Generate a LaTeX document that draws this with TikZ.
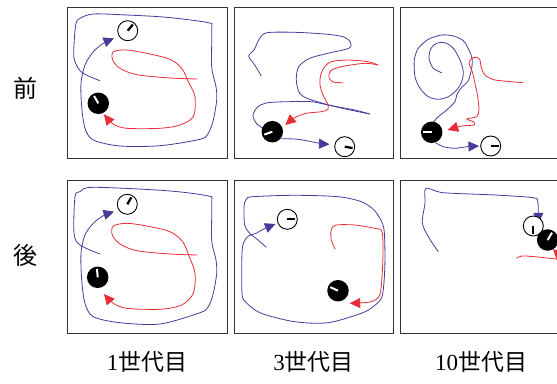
\documentclass[tikz,border=0pt]{standalone}
\usepackage{fontspec}
\setmainfont{Liberation Serif}
\newfontfamily\jp{Noto Sans CJK JP}
\usetikzlibrary{arrows.meta}
\definecolor{traj}{RGB}{72,58,155}
\definecolor{rtraj}{RGB}{232,44,56}
\tikzset{
  panel/.style={draw=black!80,line width=0.9pt},
  bpath/.style={draw=traj,line width=0.8pt},
  rpath/.style={draw=rtraj,line width=0.8pt},
  barrow/.style={bpath,-{Triangle[length=10.5pt,width=10pt]}},
  rarrow/.style={rpath,-{Triangle[length=10.5pt,width=10pt]}},
  wclock/.style={circle,draw=black,fill=white,line width=0.9pt,minimum size=20pt,inner sep=0pt},
  bclock/.style={circle,fill=black,minimum size=21.5pt,inner sep=0pt},
  rowlabel/.style={font=\jp\fontsize{24}{24}\selectfont},
  collabel/.style={font=\fontsize{23}{23}\selectfont},
}
\newcommand\wclk[4]{\node[wclock] (#1) at (#2,#3) {};
  \draw[line width=2.3pt] (#1.center) -- ++({-(#4)}:8);}
\newcommand\bclk[4]{\node[bclock] (#1) at (#2,#3) {};
  \draw[white,line width=2pt] (#1.center) -- ++({-(#4)}:8.5);}
\begin{document}
\begin{tikzpicture}[x=1pt,y=-1pt]
\useasboundingbox (0,0) rectangle (557,383);
\clip (0,0) rectangle (557,383);
% panels
\draw[panel] (67,7) rectangle (227,158);
\draw[panel] (234,7) rectangle (393,158);
\draw[panel] (400,7) rectangle (562,158);
\draw[panel] (67,180) rectangle (227,333);
\draw[panel] (234,180) rectangle (393,333);
\draw[panel] (400,180) rectangle (562,333);
% ---------- panel 1 ----------
\draw[barrow] plot[smooth] coordinates {(100,80.7) (90,76.7) (80,70.7) (74,58.3) (74.3,40) (76,23.3) (80,18.3) (93.3,14) (126.7,15) (166.7,17.3) (208.3,22.7) (211.7,28.3) (211.7,66.7) (216,86.7) (216.7,100) (213.3,120) (208.3,133.3) (200,139.3) (160,145.7) (120,146) (93.3,140) (85,128.3) (81.7,106.7) (81,83.3) (85,65) (93.3,51.7) (103.3,43.3) (114,38.3)};
\draw[rarrow] plot[smooth] coordinates {(197.3,79) (170,78) (136.7,74.7) (120,68.3) (112.7,60) (113.3,51.7) (126.7,50) (146.7,53.3) (170,59.3) (181.7,68.3) (188.3,81.7) (195,96.7) (193.3,116.7) (180,125) (160,128.3) (126.7,128.3) (113.3,124) (104,114.3)};
\wclk{w1}{127.7}{30.7}{50}
\bclk{b1}{98.3}{103.3}{120}
% ---------- panel 2 ----------
\draw[bpath] plot[smooth] coordinates {(261.3,76) (254.7,65) (248.7,56) (254,50) (259.7,38.3) (267.3,32.7) (294.7,32.3) (328,34.3) (344.7,37.3) (350.7,42.7) (348.7,48.3) (328,53.3) (309.7,58.3) (298.7,66.7) (296.3,80) (299.7,93.3) (309.7,99.3) (338,107.3) (369.7,114)};
\draw[bpath] plot[smooth] coordinates {(369.7,114) (354.7,110) (328,105) (311.3,101.7) (288,101.7) (268,102.7) (258,106.7) (253,115) (256.3,123.3) (263,128.3)};
\draw[rpath] plot[smooth] coordinates {(343,82.7) (333,82) (329,77.3) (330.7,70.7) (341.3,66.7) (364.7,63.3) (378,65)};
\draw[rarrow] plot[smooth] coordinates {(378,65) (368,61.7) (348,60) (331.3,61.7) (324.7,66.7) (320.7,75) (320,85) (323,95) (327.3,103.3) (328,109.3) (321.3,111.7) (306.3,113.3) (294.7,117.7) (285.3,125)};
\bclk{b2}{272.3}{131.7}{200}
\wclk{w2}{344.7}{146.7}{-10}
\draw[barrow] plot[smooth] coordinates {(b2.-40) (298,139.3) (319.7,143.3) (329.5,144.3)};
% ---------- panel 3 ----------
\draw[bpath] plot[smooth] coordinates {(441.7,72.7) (433.3,68.3) (429,58.3) (431,48.3) (436.7,43.3) (445,42.7) (453.3,48.3) (460,60) (463.3,71.7) (461.7,81.7) (456.7,90) (448.3,96.7) (438.3,99.3) (428.3,96.7) (420,88.3) (415,76.7) (414.3,60) (418.3,48.3) (428.3,39.3) (441.7,35) (453.3,36) (463.3,40.7) (469,50) (472.3,60) (471,71.7) (467.7,81.7) (461.7,87.3) (456.7,95) (455,101.7) (446.7,110) (438.3,116.7) (432.3,123.3)};
\draw[rarrow] plot[smooth,tension=0.4] coordinates {(523.3,82.7) (495,80) (485,75) (481,66.7) (480,60) (476.7,57.3) (471.7,58.3) (469,63.3) (472.3,71.7) (475,83.3) (477.7,96.7) (479,110) (476.7,116.7) (466.7,119) (473.3,121.7) (474.3,125) (461.7,126) (447.7,130)};
\bclk{b3}{431.7}{132.3}{180}
\wclk{w3}{490.7}{146}{0}
\draw[barrow] plot[smooth] coordinates {(b3.-70) (443.3,146.7) (455,148.3) (466.7,146.7) (479,146)};
% ---------- panel 4 ----------
\draw[barrow] plot[smooth] coordinates {(100,254) (80,245) (74,233.3) (75,196.7) (80,191.7) (93.3,187.3) (166.7,190.7) (208.3,196) (211.7,201.7) (211.7,240) (216,260) (216.7,273.3) (213.3,293.3) (208.3,306.7) (200,312.7) (160,324) (120,322.7) (93.3,316.7) (85,303.3) (81.7,280) (81,253.3) (85,235) (93.3,223.3) (103.3,215.7) (114,211.7)};
\draw[rarrow] plot[smooth] coordinates {(197.3,255) (170,254) (136.7,250.7) (120,244) (112.3,235) (113.3,226) (126.7,223.3) (146.7,226) (170,231.7) (182.7,241.7) (189.3,256.7) (195,273.3) (193.3,293.3) (181.7,305) (160,309.3) (126.7,308.3) (113.3,303.3) (104,294)};
\wclk{w4}{127.3}{204.3}{60}
\bclk{b4}{97.7}{277.3}{95}
% ---------- panel 5 ----------
\draw[barrow] plot[smooth] coordinates {(266.3,247.3) (258,240) (249.7,233.3) (244.7,225) (244,206.7) (246.3,199.3) (253,196.7) (294.7,195.3) (338,196.7) (361.3,201.7) (374.7,210.7) (383,225) (384.7,240) (384.7,270) (382,296.7) (373,306.7) (361.3,313.3) (328,322.7) (294.7,321.7) (261.3,313.3) (246.3,302.7) (242,293.3) (242,253.3) (244,241.7) (248.7,235.7) (256.3,233.3) (263,229.3) (275.5,224)};
\draw[rarrow] plot[smooth] coordinates {(335.3,249.3) (331.3,240) (331.3,229.3) (336.3,225) (354.7,225) (374.7,228.3) (382,231.7) (383,253.3) (382,276.7) (379.7,295) (371.3,301.7) (349.7,303.3)};
\wclk{w5}{287.3}{219.3}{0}
\bclk{b5}{338}{290.7}{155}
% ---------- panel 6 ----------
\draw[rpath] plot[smooth] coordinates {(516.7,258.3) (521.7,256) (535,256.7) (560,259.5)};
\draw[rarrow] plot[smooth] coordinates {(566,262) (560,256) (553,249)};
\draw[barrow] plot[smooth] coordinates {(438.3,251.7) (428.3,236.7) (422.3,222.7) (425,203.3) (426,188.3) (443.3,192.7) (495,195) (533.3,197.7) (537.7,201.7) (538.3,210) (538.3,223.3)};
\wclk{w6}{533.3}{226}{-90}
\bclk{b6}{547.7}{240}{60}
% ---------- labels ----------
\node[rowlabel] (pre) at (25,88) {前};
\node[rowlabel] (post) at (25,255) {後};
\node[collabel] (g1) at (147,362) {1{\jp 世代目}};
\node[collabel] (g3) at (313.5,362) {3{\jp 世代目}};
\node[collabel] (g10) at (481,362) {10{\jp 世代目}};
\end{tikzpicture}
\end{document}
